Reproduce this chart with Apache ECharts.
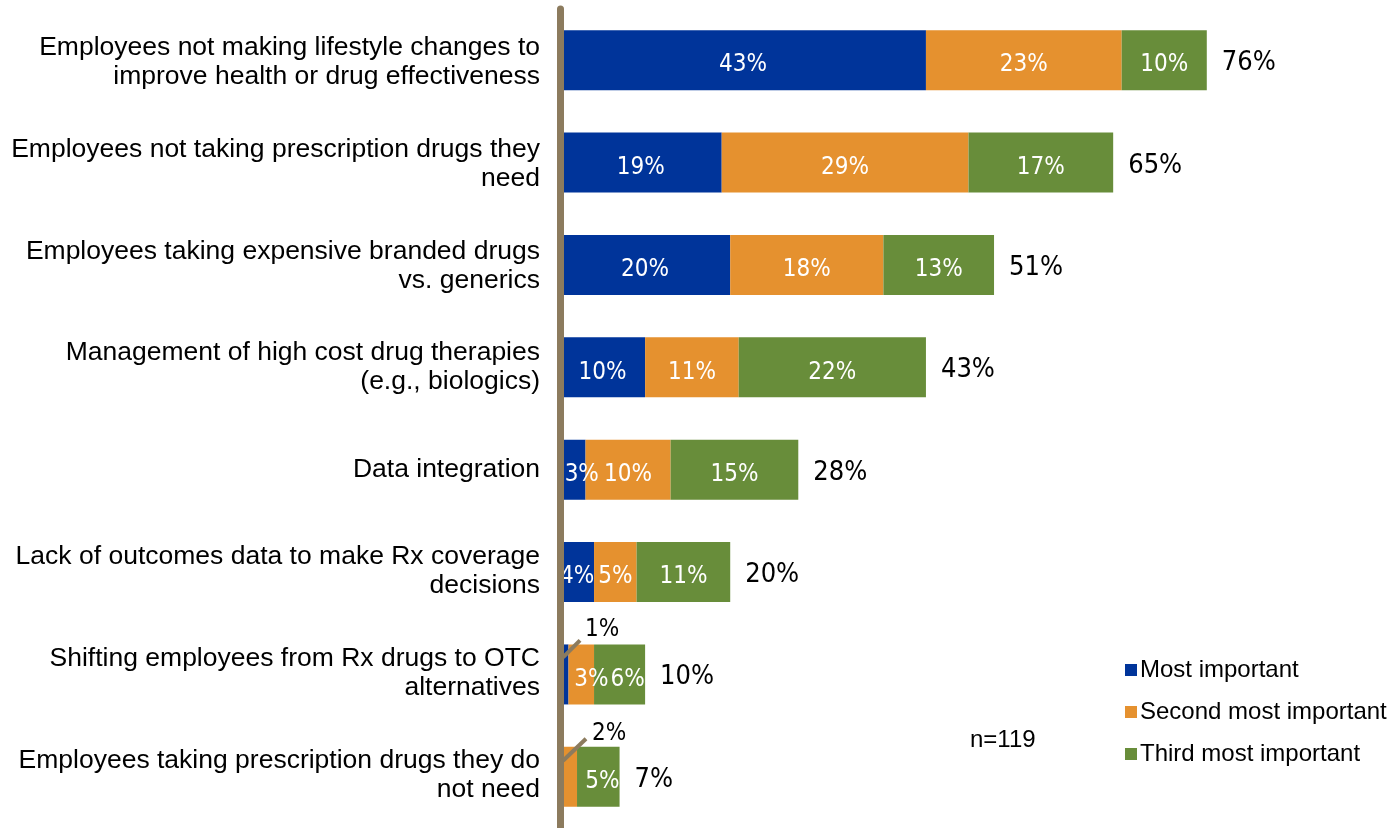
<!DOCTYPE html>
<html>
<head>
<meta charset="utf-8">
<script src="https://cdn.jsdelivr.net/npm/echarts@6/dist/echarts.min.js"></script>
<style>
  html, body { margin: 0; padding: 0; background: #fff; }
  #chart { width: 1388px; height: 828px; }
</style>
</head>
<body>
<div id="chart"></div>
<script>
// Pharmacy-benefit challenges, ranked by employers (percent of respondents)
const categories = [
  'Employees not making lifestyle changes to\nimprove health or drug effectiveness',
  'Employees not taking prescription drugs they\nneed',
  'Employees taking expensive branded drugs\nvs. generics',
  'Management of high cost drug therapies\n(e.g., biologics)',
  'Data integration',
  'Lack of outcomes data to make Rx coverage\ndecisions',
  'Shifting employees from Rx drugs to OTC\nalternatives',
  'Employees taking prescription drugs they do\nnot need'
];
const mostImportant   = [43, 19, 20, 10, 3, 4, 1, 0];
const secondImportant = [23, 29, 18, 11, 10, 5, 3, 2];
const thirdImportant  = [10, 17, 13, 22, 15, 11, 6, 5];
const totals          = [76, 65, 51, 43, 28, 20, 10, 7];
const seriesNames = ['Most important', 'Second most important', 'Third most important'];
const sampleNote = 'n=119';

const COLORS = ['#00349A', '#E5912F', '#688D3A'];
const AXIS_BROWN = '#8C7B5E';
const NARROW = '"Liberation Sans Narrow", "Arial Narrow", "DejaVu Sans Condensed", sans-serif';
const SANS = '"Liberation Sans", Arial, Helvetica, sans-serif';
const BAR_W = 60;
const LABEL_DY = 5;

// Segments too thin for an inside label: label sits above-right with a leader line
const callouts = { '0-6': { pos: [25, -15], line: [[3, 13], [20, -4]] },
                   '1-7': { pos: [32, -13], line: [[3, 14], [26, -8]] } };
// Inside labels nudged sideways to clear the axis or a neighbour
const nudges = { '0-4': 9, '1-6': 10, '2-6': 8, '2-7': 4 };

function buildData(values, sIdx) {
  return values.map((v, i) => {
    const key = sIdx + '-' + i;
    const item = { value: v };
    if (callouts[key]) {
      item.label = { position: callouts[key].pos, align: 'left', verticalAlign: 'middle', color: '#000' };
    }
    return item;
  });
}

// Category text sits a little tighter than the bar rows: shift (px, + is down) per row
const rowShift = idx => 2 - 0.6 * idx;
function categoryLabel(value, idx) {
  const h = Math.round(2 * Math.abs(rowShift(idx)));
  const body = value.split('\n').map(l => '{c|' + l + '}').join('\n');
  if (h === 0) return body;
  return rowShift(idx) > 0 ? '{s' + h + '| }\n' + body : body + '\n{s' + h + '| }';
}
const spacerRich = {};
for (let h = 1; h <= 16; h++) spacerRich['s' + h] = { fontSize: 1, lineHeight: h };

const stackSeries = [mostImportant, secondImportant, thirdImportant].map((vals, s) => ({
  name: seriesNames[s],
  type: 'bar',
  stack: 'rank',
  barWidth: BAR_W,
  barGap: '-100%',
  z: 2,
  itemStyle: { color: COLORS[s] },
  label: {
    show: true,
    position: 'inside',
    color: '#fff',
    fontFamily: NARROW,
    fontSize: 24,
    formatter: p => (p.value > 0 ? p.value + '%' : '')
  },
  labelLayout: p => {
    const key = p.seriesIndex + '-' + p.dataIndex;
    if (callouts[key]) return {};
    return { dx: nudges[key] || 0, dy: LABEL_DY, hideOverlap: false };
  },
  data: buildData(vals, s)
}));

const totalSeries = {
  name: 'Total',
  type: 'bar',
  barWidth: BAR_W,
  barGap: '-100%',
  z: 1,
  silent: true,
  itemStyle: { color: 'rgba(0,0,0,0)' },
  label: {
    show: true,
    position: 'right',
    distance: 15,
    color: '#000',
    fontFamily: NARROW,
    fontSize: 27,
    formatter: p => p.value + '%'
  },
  labelLayout: { dy: 3 },
  data: totals
};

const chart = echarts.init(document.getElementById('chart'), null, { renderer: 'canvas' });

chart.setOption({
  animation: false,
  backgroundColor: '#fff',
  grid: { left: 560, right: 11, top: 9, bottom: -4, containLabel: false },
  xAxis: { type: 'value', min: 0, max: 96, show: false },
  yAxis: {
    type: 'category',
    inverse: true,
    data: categories,
    z: 10,
    axisLine: { show: true, lineStyle: { color: AXIS_BROWN, width: 7 } },
    axisTick: { show: false },
    splitLine: { show: false },
    axisLabel: {
      margin: 20,
      align: 'right',
      verticalAlign: 'middle',
      formatter: categoryLabel,
      rich: Object.assign({
        c: { color: '#000', fontFamily: SANS, fontSize: 26.5, lineHeight: 29 }
      }, spacerRich)
    }
  },
  legend: {
    orient: 'vertical',
    left: 1120,
    top: 653,
    itemWidth: 12,
    itemHeight: 12,
    itemGap: 18,
    icon: 'rect',
    data: seriesNames,
    textStyle: { color: '#000', fontFamily: SANS, fontSize: 24, padding: [0, 0, 0, -2] }
  },
  series: [...stackSeries, totalSeries]
});

// Leader lines for the callout labels, placed from the bars' pixel positions
const leaders = [];
Object.keys(callouts).forEach(key => {
  const [s, i] = key.split('-').map(Number);
  const prior = [mostImportant, secondImportant, thirdImportant].slice(0, s).reduce((a, arr) => a + arr[i], 0);
  const pt = chart.convertToPixel({ gridIndex: 0 }, [prior, i]);
  const left = pt[0], top = pt[1] - BAR_W / 2;
  const [[x1, y1], [x2, y2]] = callouts[key].line;
  leaders.push({
    type: 'line',
    z: 20,
    shape: { x1: left + x1, y1: top + y1, x2: left + x2, y2: top + y2 },
    style: { stroke: AXIS_BROWN, lineWidth: 4 }
  });
});

chart.setOption({
  graphic: [
    ...leaders,
    {
      type: 'text',
      left: 970,
      top: 728,
      style: { text: sampleNote, fill: '#000', font: '24px ' + SANS }
    }
  ]
});
</script>
</body>
</html>
